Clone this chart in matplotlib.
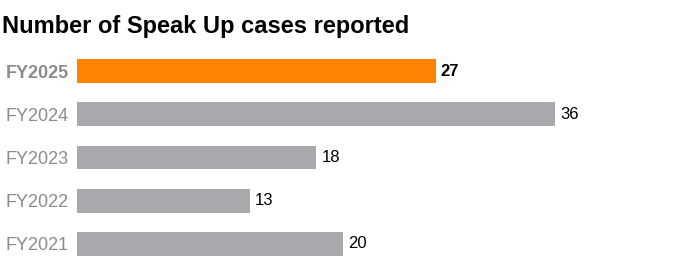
import matplotlib
matplotlib.use("Agg")
import matplotlib.pyplot as plt

plt.rcParams["font.family"] = ["Liberation Sans", "DejaVu Sans"]

years = ["FY2025", "FY2024", "FY2023", "FY2022", "FY2021"]
cases = [27, 36, 18, 13, 20]
highlight = "FY2025"

ORANGE = "#FF8300"
GREY = "#A7A9AC"
LABEL_GREY = "#8C8C8C"

W, H = 675, 277
fig = plt.figure(figsize=(W / 100, H / 100), dpi=100)

# axes placed so that 0 sits at x=77px and 36 at x=555px
left = 77 / W
width = (555 - 77) / W
bottom = 1 - 265.6 / H
height = (265.6 - 49.4) / H
ax = fig.add_axes([left, bottom, width, height])

pos = list(range(len(years)))
colors = [ORANGE if y == highlight else GREY for y in years]
ax.barh(pos, cases, height=0.555, color=colors, edgecolor="none")

ax.set_xlim(0, 36)
ax.set_ylim(len(years) - 0.5, -0.5)

for p, y, v in zip(pos, years, cases):
    bold = y == highlight
    ax.text(v + 0.4, p, str(v), va="center", ha="left",
            fontsize=12, color="black",
            fontweight="bold" if bold else "normal", clip_on=False)

ax.set_yticks(pos)
ax.set_yticklabels(years, fontsize=13, color=LABEL_GREY)
for lbl, y in zip(ax.get_yticklabels(), years):
    if y == highlight:
        lbl.set_fontweight("bold")
ax.tick_params(axis="y", length=0, pad=6)
ax.set_xticks([])
for s in ax.spines.values():
    s.set_visible(False)

fig.text(2 / W, 1 - 33 / H, "Number of Speak Up cases reported",
         fontsize=17, fontweight="bold", color="black",
         ha="left", va="baseline")

fig.savefig("out.png", dpi=100)
